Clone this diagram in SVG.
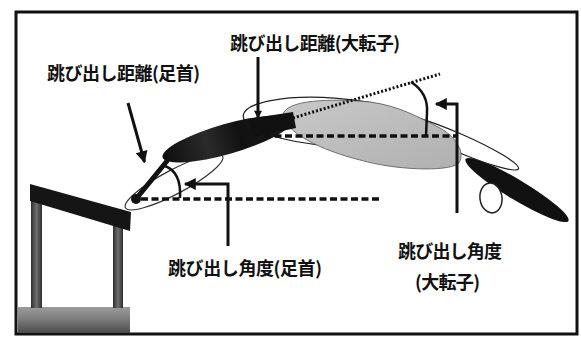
<svg xmlns="http://www.w3.org/2000/svg" width="581" height="338" viewBox="0 0 581 338">
  <defs>
    <style>
      .lbl{font-family:"Noto Sans CJK JP","Noto Sans CJK SC",sans-serif;font-size:18px;font-weight:bold;fill:#111}
      .ptr{fill:none;stroke:#111;stroke-width:3}
      .arc{fill:none;stroke:#111;stroke-width:2.5}
      .dash{fill:none;stroke:#111;stroke-width:3.5;stroke-dasharray:7 3.5}
      .dot{fill:none;stroke:#111;stroke-width:3;stroke-dasharray:2 2}
      .outline{fill:#fff;stroke:#222;stroke-width:1.3}
    </style>
    <marker id="head" viewBox="0 0 10 10" refX="9" refY="5" markerWidth="13" markerHeight="12" markerUnits="userSpaceOnUse" orient="auto">
      <path d="M0,0 L10,5 L0,10 Z" fill="#111"/>
    </marker>
    <marker id="headS" viewBox="0 0 10 10" refX="9" refY="5" markerWidth="9" markerHeight="8" markerUnits="userSpaceOnUse" orient="auto">
      <path d="M0,0 L10,5 L0,10 Z" fill="#111"/>
    </marker>
    <linearGradient id="leg" x1="0" y1="0" x2="1" y2="0">
      <stop offset="0" stop-color="#2e2e2e"/>
      <stop offset="0.5" stop-color="#6e6e6e"/>
      <stop offset="1" stop-color="#2e2e2e"/>
    </linearGradient>
    <linearGradient id="base" x1="0" y1="0" x2="0" y2="1">
      <stop offset="0" stop-color="#9c9c9c"/>
      <stop offset="0.5" stop-color="#7a7a7a"/>
      <stop offset="1" stop-color="#4a4a4a"/>
    </linearGradient>
    <linearGradient id="trunk" x1="0" y1="0" x2="1" y2="0">
      <stop offset="0" stop-color="#0d0d0d"/>
      <stop offset="0.35" stop-color="#2a2a2a"/>
      <stop offset="0.6" stop-color="#111"/>
      <stop offset="1" stop-color="#1c1c1c"/>
    </linearGradient>
    <linearGradient id="thigh" x1="0" y1="0" x2="1" y2="1">
      <stop offset="0" stop-color="#c8c8c8"/>
      <stop offset="1" stop-color="#b0b0b0"/>
    </linearGradient>
  </defs>

  <rect width="581" height="338" fill="#fff"/>

  <!-- outer frame -->
  <rect id="frame" x="16" y="12" width="561" height="322" fill="#fff" stroke="#111" stroke-width="3"/>

  <!-- starting block -->
  <g id="block">
    <rect x="18" y="307" width="112" height="26" fill="url(#base)"/>
    <rect x="31" y="196" width="11" height="112" fill="url(#leg)"/>
    <rect x="113" y="225" width="10" height="83" fill="url(#leg)"/>
    <polygon points="30,184 131,212 130,231 30,201" fill="#151515"/>
  </g>

  <!-- swimmer body -->
  <g id="body">
    <ellipse cx="333" cy="122" rx="90" ry="24" transform="rotate(4 333 122)" class="outline"/>
    <ellipse cx="517" cy="190" rx="60" ry="10" transform="rotate(31 517 190)" fill="#111"/>
    <ellipse cx="457" cy="142" rx="67" ry="9" transform="rotate(23.5 457 142)" class="outline"/>
    <path d="M283,115 C285,100 330,98 370,102 C400,106 420,118 440,128 C458,138 466,155 458,164 C445,172 395,170 360,160 C320,150 285,132 283,115 Z" fill="url(#thigh)" stroke="#555" stroke-width="0.8"/>
    <ellipse cx="491" cy="198" rx="11" ry="15" transform="rotate(-8 491 198)" fill="#fff" stroke="#222" stroke-width="1.5"/>
    <ellipse cx="174" cy="182" rx="55" ry="12" transform="rotate(-28 174 182)" fill="none" stroke="#333" stroke-width="1.2"/>
    <ellipse cx="227" cy="139" rx="67" ry="15" transform="rotate(-16 227 139)" fill="url(#trunk)"/>
    <polygon points="248,119 293,112 296,128 254,137" fill="#111"/>
    <line x1="136" y1="199" x2="167" y2="161" stroke="#111" stroke-width="5" stroke-linecap="round"/>
    <circle cx="136" cy="199" r="5" fill="#111"/>
  </g>

  <!-- reference lines, angle arcs and pointers -->
  <g id="connectors">
    <path class="dash" d="M141,199 H380"/>
    <path class="dash" d="M264,136 H457"/>
    <path class="dot" d="M293,118 L440,74"/>
    <path class="arc" d="M165,166 C176,170 181,180 180,198"/>
    <path class="arc" d="M411,82 C422,89 428,100 427,113 L426,136"/>
    <line class="ptr" x1="128" y1="103" x2="144.5" y2="162" marker-end="url(#head)"/>
    <line class="ptr" x1="258" y1="57" x2="258" y2="118" marker-end="url(#headS)"/>
    <path class="ptr" d="M228,246 V184 H185" marker-end="url(#head)"/>
    <path class="ptr" d="M457,213 V104 H436" marker-end="url(#head)"/>
  </g>

  <!-- labels -->
  <g id="label-dist-ankle"><text class="lbl" x="47" y="80" textLength="153">跳び出し距離(足首)</text></g>
  <g id="label-dist-hip"><text class="lbl" x="230" y="50" textLength="170">跳び出し距離(大転子)</text></g>
  <g id="label-angle-ankle"><text class="lbl" x="168" y="275" textLength="154">跳び出し角度(足首)</text></g>
  <g id="label-angle-hip">
    <text class="lbl" x="398" y="258" textLength="104">跳び出し角度</text>
    <text class="lbl" x="415" y="289" textLength="65">(大転子)</text>
  </g>
</svg>
